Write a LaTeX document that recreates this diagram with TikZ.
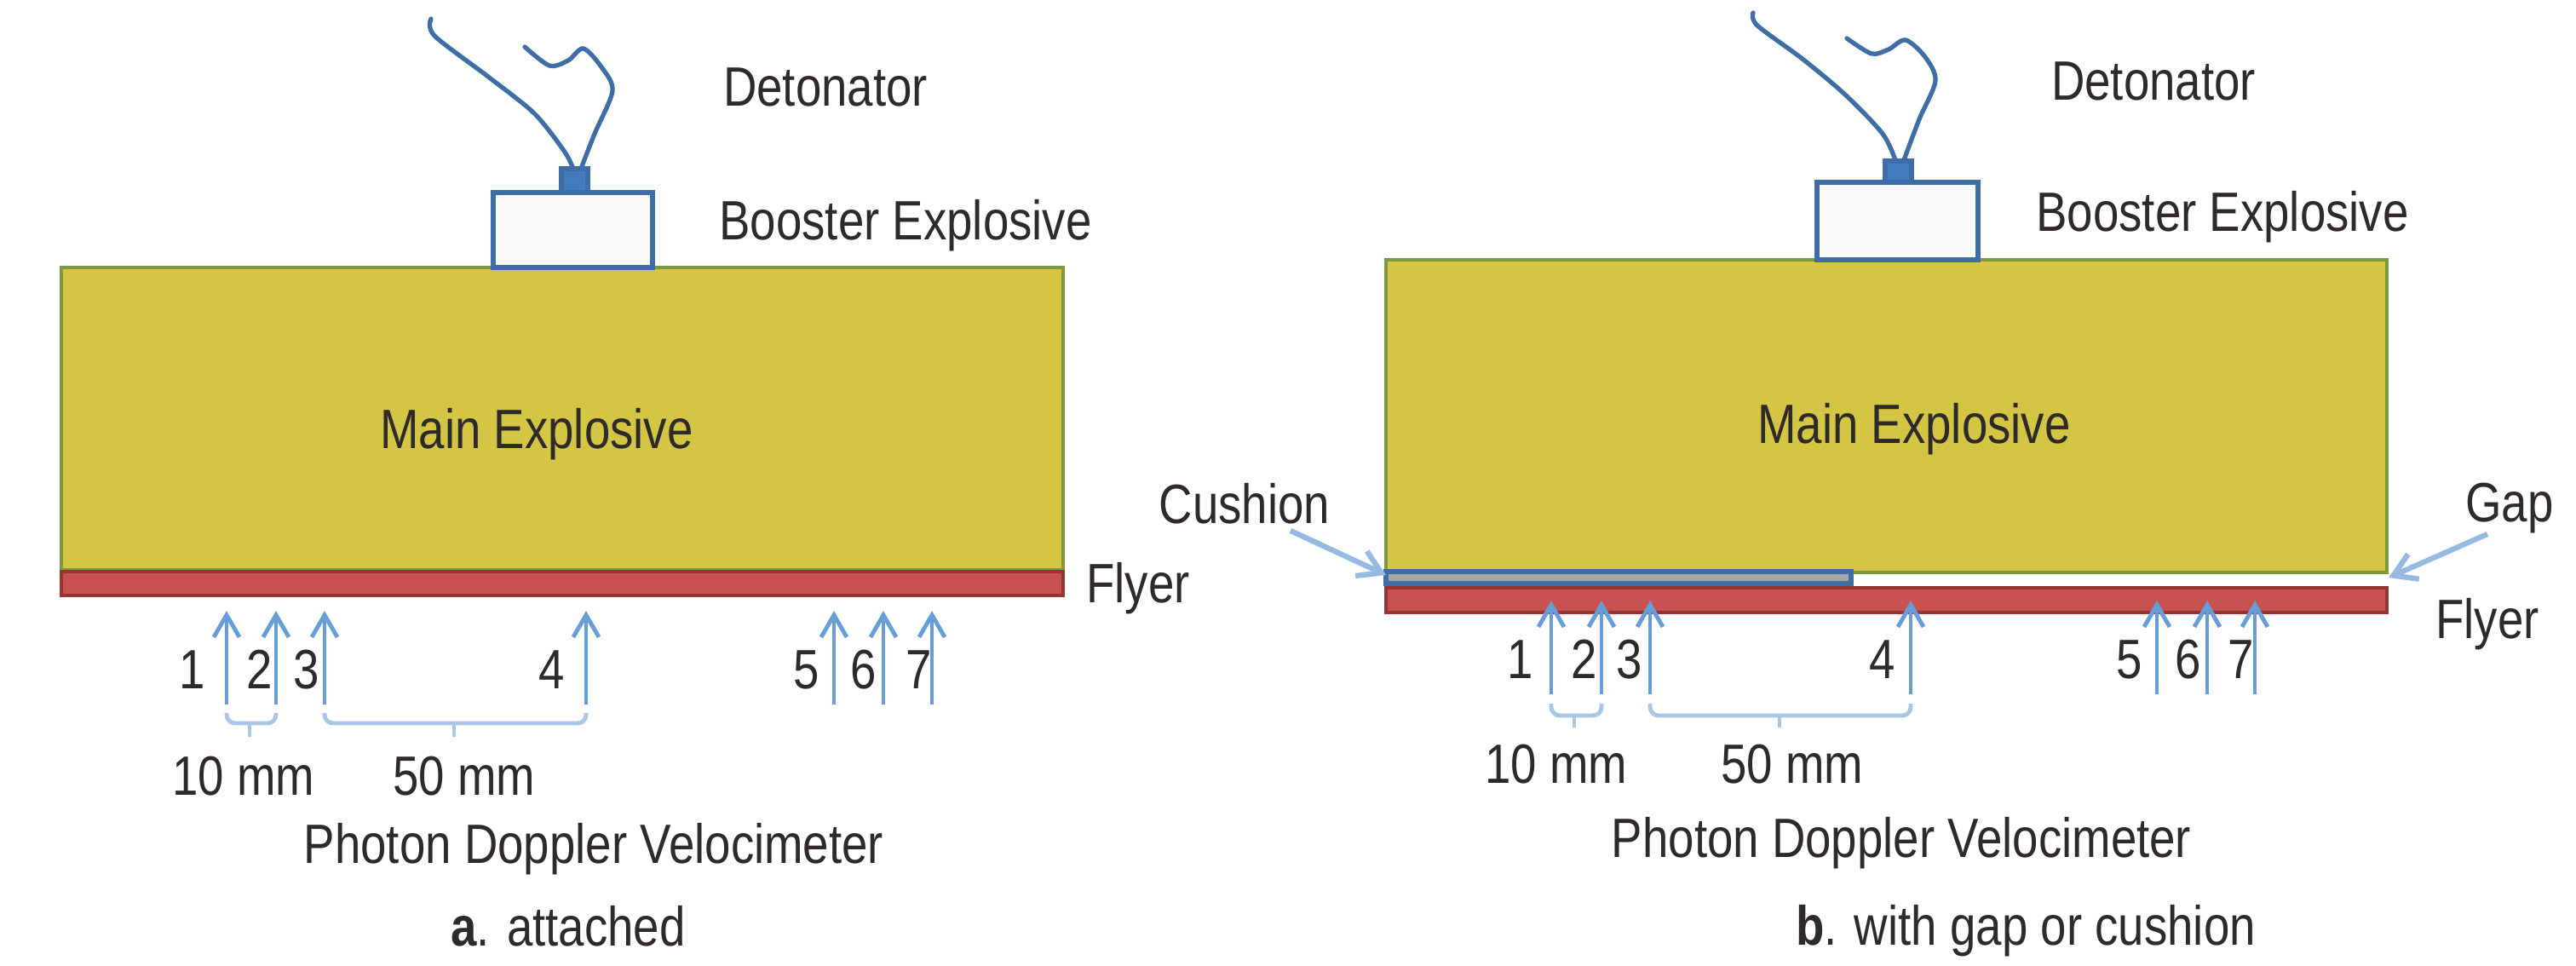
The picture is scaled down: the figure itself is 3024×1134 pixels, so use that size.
\documentclass[tikz,border=0pt]{standalone}
\usepackage{fontspec}
\setmainfont[FakeStretch=0.84]{Liberation Sans}
\usepackage{xcolor}
\usetikzlibrary{arrows.meta}
\definecolor{mainfill}{RGB}{212,197,68}
\definecolor{mainedge}{RGB}{126,152,62}
\definecolor{flyerfill}{RGB}{200,82,80}
\definecolor{flyeredge}{RGB}{150,54,52}
\definecolor{wireblue}{RGB}{62,110,165}
\definecolor{capblue}{RGB}{68,122,190}
\definecolor{probeblue}{RGB}{104,158,216}
\definecolor{spanblue}{RGB}{170,198,230}
\definecolor{inkgrey}{RGB}{46,42,42}

\begin{document}
\begin{tikzpicture}[x=0.01cm, y=-0.01cm]
        % ================= styles =================
        \tikzset{
            lbl/.style={anchor=base, inner sep=0pt, text=inkgrey, font=\fontsize{18.5}{22}\selectfont},
            main_block/.style={draw=mainedge, line width=1.4pt, fill=mainfill},
            flyer_plate/.style={draw=flyeredge, line width=1.3pt, fill=flyerfill},
            booster_block/.style={draw=wireblue, line width=1.6pt, fill=black!2},
            det_cap/.style={draw=wireblue, line width=1.5pt, fill=capblue},
            det_wire/.style={wireblue, line width=1.5pt, line cap=round},
            probe/.style={probeblue, line width=1.4pt, -{Straight Barb[length=2.6mm, width=3mm]}},
            pointer/.style={spanblue!70!probeblue, line width=1.8pt, -{Straight Barb[length=2.6mm, width=3.2mm]}},
            span_mark/.style={spanblue, line width=1.4pt, rounded corners=1mm}
        }
        \useasboundingbox (0,0) rectangle (3024,1134);

        % ================= left: a. attached =================
        \begin{scope}
            % detonator wires
            \draw[det_wire] plot[smooth] coordinates {(506,22) (510,42) (573,90) (627,133) (662,177) (673,198)};
            \draw[det_wire] plot[smooth, tension=0.5] coordinates {(616,55) (645,77) (667,71) (685,57) (707,80) (719,107) (698,157) (682,198)};

            % blocks
            \draw[main_block] (72,314) rectangle (1248,669);
            \draw[flyer_plate] (72,671) rectangle (1248,699);
            \draw[booster_block] (579,226) rectangle (766,314);
            \draw[det_cap] (659,198) rectangle (690,226);

            % 7 probes
            \foreach \i/\x/\lx in {1/266/226, 2/324/305, 3/381/360, 4/688/648, 5/979/947, 6/1037/1014, 7/1094/1079} {
                \coordinate (pa\i) at (\x,827);
                \coordinate (ta\i) at (\x,717);
                \draw[probe] (pa\i) -- (ta\i);
                \node[lbl] (da\i) at (\lx,808) {\i};
            }

            % spacing marks
            \draw[span_mark] (266,837) -- (266,849) -- (324,849) -- (324,837);
            \draw[span_mark] (293,849) -- (293,865);
            \draw[span_mark] (381,837) -- (381,849) -- (688,849) -- (688,837);
            \draw[span_mark] (533,849) -- (533,865);

            \node[lbl] (deta) at (969,125) {Detonator};
            \node[lbl] (boosta) at (1063,282) {Booster Explosive};
            \node[lbl] (maina) at (630,527) {Main Explosive};
            \node[lbl] (flya) at (1336,708) {Flyer};
            \node[lbl] (tena) at (286,933) {10 mm};
            \node[lbl] (fiftya) at (545,933) {50 mm};
            \node[lbl] (pdva) at (697,1013) {Photon Doppler Velocimeter};
            \node[lbl] (capa) at (667,1110) {\textbf{a}. attached};
        \end{scope}

        % ================= right: b. with gap or cushion =================
        \begin{scope}
            % detonator wires
            \draw[det_wire] plot[smooth] coordinates {(2058,15) (2063,30) (2117,70) (2167,112) (2210,157) (2225,188)};
            \draw[det_wire] plot[smooth, tension=0.5] coordinates {(2168,45) (2197,63) (2217,58) (2237,47) (2260,67) (2272,95) (2253,140) (2235,188)};

            % blocks
            \draw[main_block] (1627,305) rectangle (2802,672);
            \draw[flyer_plate] (1627,690) rectangle (2802,719);
            \draw[draw=wireblue, line width=1.5pt, fill=black!35] (1627,671) rectangle (2173,685);
            \draw[booster_block] (2133,214) rectangle (2322,305);
            \draw[det_cap] (2213,189) rectangle (2244,214);

            % 7 probes
            \foreach \i/\x/\lx in {1/1821/1785, 2/1880/1860, 3/1937/1913, 4/2243/2210, 5/2532/2500, 6/2591/2569, 7/2647/2631} {
                \coordinate (pb\i) at (\x,815);
                \coordinate (tb\i) at (\x,705);
                \draw[probe] (pb\i) -- (tb\i);
                \node[lbl] (db\i) at (\lx,797) {\i};
            }

            % spacing marks
            \draw[span_mark] (1821,826) -- (1821,840) -- (1880,840) -- (1880,826);
            \draw[span_mark] (1848,840) -- (1848,854);
            \draw[span_mark] (1937,826) -- (1937,840) -- (2243,840) -- (2243,826);
            \draw[span_mark] (2089,840) -- (2089,854);

            \node[lbl] (detb) at (2528,118) {Detonator};
            \node[lbl] (boostb) at (2609,272) {Booster Explosive};
            \node[lbl] (mainb) at (2247,521) {Main Explosive};
            \node[lbl] (cushb) at (1461,615) {Cushion};
            \node[lbl] (gapb) at (2946,613) {Gap};
            \node[lbl] (flyb) at (2920,750) {Flyer};
            \node[lbl] (tenb) at (1827,919) {10 mm};
            \node[lbl] (fiftyb) at (2104,919) {50 mm};
            \node[lbl] (pdvb) at (2232,1006) {Photon Doppler Velocimeter};
            \node[lbl] (capb) at (2378,1109) {\textbf{b}. with gap or cushion};

            % pointers to cushion and gap
            \coordinate (cushtail) at (1515,623);
            \coordinate (cushtip) at (1627,675);
            \coordinate (gaptail) at (2920,627);
            \coordinate (gaptip) at (2804,678);
            \draw[pointer] (cushtail) -- (cushtip);
            \draw[pointer] (gaptail) -- (gaptip);
        \end{scope}

    \end{tikzpicture}
\end{document}
